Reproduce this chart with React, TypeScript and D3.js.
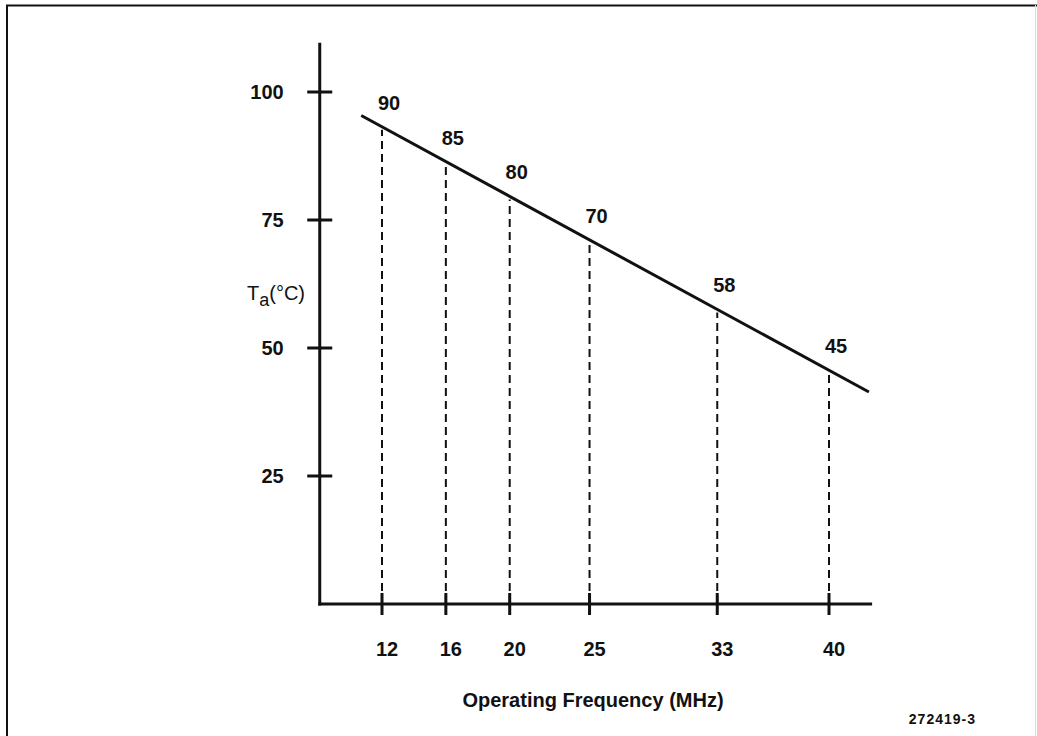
import React from 'react';
import * as d3 from 'd3';

const FREQUENCIES = [12, 16, 20, 25, 33, 40];
const MAX_TEMPS = [90, 85, 80, 70, 58, 45];
const Y_TICKS = [25, 50, 75, 100];
const LINE_FREQ = [10.7, 42.5];
const LINE_TEMP = [95.4, 41.4];
const X_LABEL = 'Operating Frequency (MHz)';
const FIG_ID = '272419-3';

const FONT = '"Liberation Sans", Arial, Helvetica, sans-serif';

export default function App() {
  const W = 1037;
  const H = 736;
  const x = d3.scaleLinear().domain([12, 40]).range([382, 829]);
  const y = d3.scaleLinear().domain([0, 100]).range([604, 92]);
  const lineTemp = d3.scaleLinear().domain(LINE_FREQ).range(LINE_TEMP);

  const xAxisStart = x(8.1);
  const xAxisEnd = x(42.7);
  const yAxisBottom = y(0);
  const yAxisTop = y(109.6);

  const pts: [number, number][] = LINE_FREQ.map((f, i) => [f, LINE_TEMP[i]]);
  const linePath = d3
    .line<[number, number]>()
    .x((d) => x(d[0]))
    .y((d) => y(d[1]))(pts) as string;

  return (
    <svg
      width={W}
      height={H}
      viewBox={`0 0 ${W} ${H}`}
      style={{ position: 'absolute', left: 0, top: 0, background: '#fff' }}
      fontFamily={FONT}
    >
      <rect x={0} y={0} width={W} height={H} fill="#fff" />
      {/* frame */}
      <line x1={6} y1={5.5} x2={W} y2={5.5} stroke="#111" strokeWidth={2} />
      <line x1={7} y1={5} x2={7} y2={H} stroke="#111" strokeWidth={2} />
      <line x1={1035.5} y1={5} x2={1035.5} y2={H} stroke="#ddd" strokeWidth={1} />

      {/* dashed drop lines */}
      {FREQUENCIES.map((f) => (
        <line
          key={`d${f}`}
          x1={x(f)}
          x2={x(f)}
          y1={yAxisBottom}
          y2={y(lineTemp(f)) + 3}
          stroke="#111"
          strokeWidth={2}
          strokeDasharray="8 5"
        />
      ))}

      {/* axes */}
      <line x1={xAxisStart} x2={xAxisStart} y1={yAxisTop} y2={yAxisBottom + 1.5} stroke="#111" strokeWidth={3} />
      <line x1={xAxisStart - 1.5} x2={xAxisEnd} y1={yAxisBottom} y2={yAxisBottom} stroke="#111" strokeWidth={3} />

      {/* y ticks */}
      {Y_TICKS.map((t) => (
        <g key={`y${t}`}>
          <line x1={xAxisStart - 12.5} x2={xAxisStart + 12.5} y1={y(t)} y2={y(t)} stroke="#111" strokeWidth={3} />
          <text
            x={xAxisStart - 36}
            y={y(t) + 7}
            textAnchor="end"
            fontSize={20}
            fontWeight="bold"
            fill="#111"
          >
            {t}
          </text>
        </g>
      ))}

      {/* x ticks */}
      {FREQUENCIES.map((f) => (
        <g key={`x${f}`}>
          <line x1={x(f)} x2={x(f)} y1={yAxisBottom - 11} y2={yAxisBottom + 11} stroke="#111" strokeWidth={3} />
          <text x={x(f) + 5} y={yAxisBottom + 52} textAnchor="middle" fontSize={20} fontWeight="bold" fill="#111">
            {f}
          </text>
        </g>
      ))}

      {/* main line */}
      <path d={linePath} fill="none" stroke="#111" strokeWidth={3} />

      {/* point labels */}
      {FREQUENCIES.map((f, i) => (
        <text
          key={`l${f}`}
          x={x(f) + 7}
          y={y(lineTemp(f)) - 17}
          textAnchor="middle"
          fontSize={20}
          fontWeight="bold"
          fill="#111"
        >
          {MAX_TEMPS[i]}
        </text>
      ))}

      {/* y label */}
      <text x={247} y={300} fontSize={20} fill="#111">
        T
        <tspan dy={6} fontSize={18}>a</tspan>
        <tspan dy={-6}>(°C)</tspan>
      </text>

      {/* x label */}
      <text x={593} y={707} textAnchor="middle" fontSize={20} fontWeight="bold" fill="#111">
        {X_LABEL}
      </text>

      {/* figure id */}
      <text x={976} y={724} textAnchor="end" fontSize={14} fontWeight="bold" letterSpacing={1} fill="#111">
        {FIG_ID}
      </text>
    </svg>
  );
}
